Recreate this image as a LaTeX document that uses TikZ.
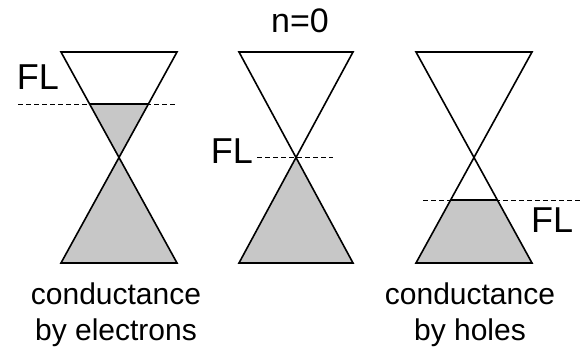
\documentclass[tikz,border=0pt]{standalone}
\usepackage{fontspec}
\usetikzlibrary{calc}
\setmainfont{Liberation Sans}
\begin{document}
\begin{tikzpicture}[x=1pt,y=-1pt,
  cone/.style={line width=1.6pt,line join=miter},
  filled/.style={fill=black!22},
  fermi/.style={line width=0.9pt,dash pattern=on 4.5pt off 3.5pt},
  lbl/.style={inner sep=0pt,font=\fontsize{36}{40}\selectfont},
  captext/.style={inner sep=0pt,align=center,font=\fontsize{30}{36}\selectfont}]
\useasboundingbox[fill=white] (0,0) rectangle (582,352);
% left cone
\coordinate (LTL) at (61,52); \coordinate (LTR) at (177,52);
\coordinate (LBL) at (61,263); \coordinate (LBR) at (177,263);
\coordinate (LA) at ($(LTL)!0.5!(LBR)$);
\coordinate (LF1) at ($(LTL)!52/211!(LBR)$);
\coordinate (LF2) at ($(LTR)!52/211!(LBL)$);
\fill[filled] (LF1) -- (LF2) -- (LA) -- cycle;
\fill[filled] (LA) -- (LBL) -- (LBR) -- cycle;
\draw[fermi] (18,104) -- (175,104);
\draw[cone] (LF1) -- (LF2);
\draw[cone] (LTL) -- (LTR) -- (LBL) -- (LBR) -- cycle;
% middle cone
\coordinate (MTL) at (239,52); \coordinate (MTR) at (353,52);
\coordinate (MBL) at (239,263); \coordinate (MBR) at (353,263);
\coordinate (MA) at ($(MTL)!0.5!(MBR)$);
\fill[filled] (MA) -- (MBL) -- (MBR) -- cycle;
\draw[fermi] (257,157.5) -- (333,157.5);
\draw[cone] (MTL) -- (MTR) -- (MBL) -- (MBR) -- cycle;
% right cone
\coordinate (RTL) at (416,52); \coordinate (RTR) at (532,52);
\coordinate (RBL) at (416,263); \coordinate (RBR) at (532,263);
\coordinate (RF1) at ($(RTR)!148/211!(RBL)$);
\coordinate (RF2) at ($(RTL)!148/211!(RBR)$);
\fill[filled] (RF1) -- (RF2) -- (RBR) -- (RBL) -- cycle;
\draw[fermi] (423,200) -- (582,200);
\draw[cone] (RF1) -- (RF2);
\draw[cone] (RTL) -- (RTR) -- (RBL) -- (RBR) -- cycle;
% labels
\node[lbl,anchor=base east] (fl1) at (59,90) {FL};
\node[lbl,anchor=base east] (fl2) at (253,164) {FL};
\node[lbl,anchor=base west] (fl3) at (531,233) {FL};
\node[lbl,anchor=base,font=\fontsize{34}{38}\selectfont] (n0) at (300,33) {n=0};
\node[captext,anchor=base] (c1a) at (116,305) {conductance};
\node[captext,anchor=base] (c1b) at (116,341) {by electrons};
\node[captext,anchor=base] (c2a) at (470,305) {conductance};
\node[captext,anchor=base] (c2b) at (470,341) {by holes};
\end{tikzpicture}
\end{document}
